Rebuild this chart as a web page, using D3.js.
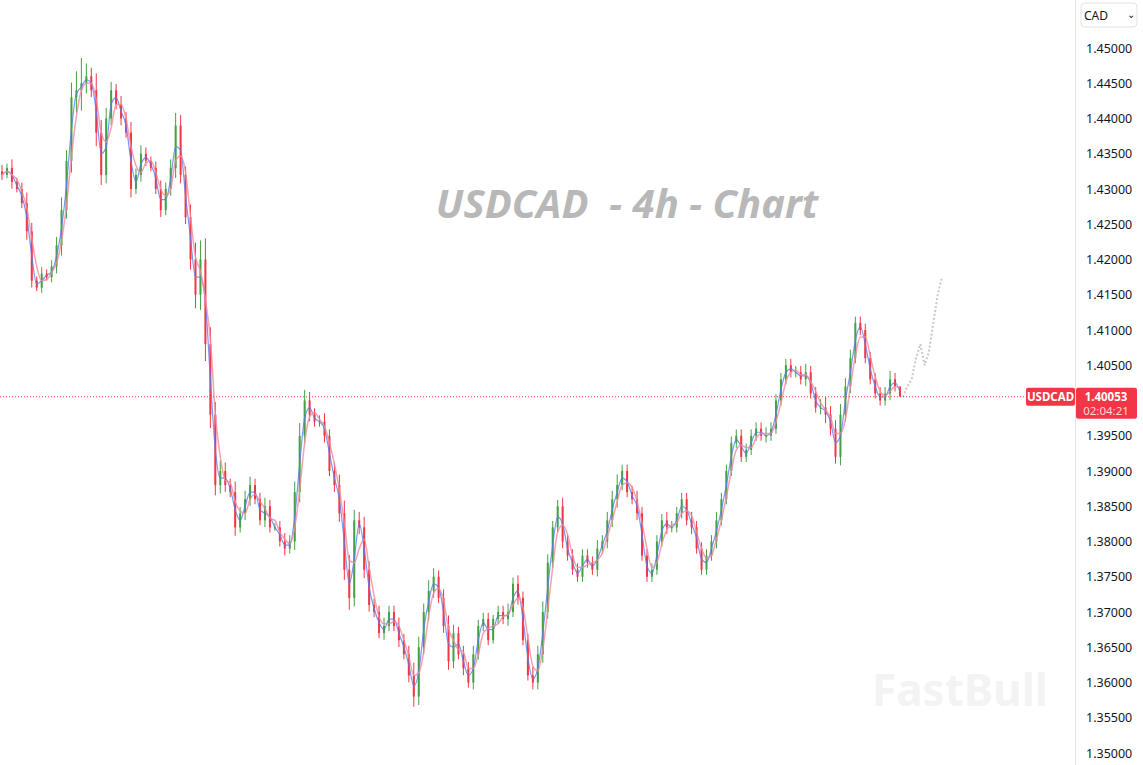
<!DOCTYPE html>
<html><head><meta charset="utf-8">
<script src="https://cdn.jsdelivr.net/npm/d3@7"></script>
<style>body{margin:0;background:#fff;font-family:"Noto Sans",Roboto,sans-serif}</style>
</head><body><svg id="c" width="1143" height="765"></svg>
<script>
const closes=[1.4320,1.4330,1.4310,1.4300,1.4280,1.4240,1.4170,1.4160,1.4180,1.4175,1.4190,1.4220,1.4270,1.4340,1.4430,1.4440,1.4450,1.4460,1.4440,1.4380,1.4320,1.4400,1.4440,1.4420,1.4400,1.4380,1.4300,1.4320,1.4350,1.4340,1.4330,1.4300,1.4270,1.4300,1.4330,1.4390,1.4320,1.4260,1.4200,1.4150,1.4200,1.4080,1.3980,1.3880,1.3900,1.3880,1.3870,1.3820,1.3840,1.3860,1.3880,1.3860,1.3830,1.3850,1.3820,1.3820,1.3800,1.3790,1.3800,1.3870,1.3950,1.4000,1.3980,1.3970,1.3970,1.3950,1.3900,1.3880,1.3840,1.3760,1.3720,1.3830,1.3820,1.3760,1.3710,1.3700,1.3670,1.3680,1.3700,1.3680,1.3660,1.3640,1.3610,1.3580,1.3650,1.3700,1.3730,1.3750,1.3720,1.3680,1.3630,1.3670,1.3640,1.3620,1.3600,1.3640,1.3680,1.3690,1.3660,1.3690,1.3700,1.3690,1.3700,1.3740,1.3720,1.3660,1.3610,1.3600,1.3640,1.3700,1.3770,1.3820,1.3850,1.3800,1.3780,1.3760,1.3750,1.3780,1.3770,1.3760,1.3790,1.3800,1.3830,1.3860,1.3880,1.3900,1.3870,1.3860,1.3840,1.3780,1.3750,1.3760,1.3800,1.3830,1.3820,1.3820,1.3840,1.3860,1.3830,1.3820,1.3790,1.3760,1.3780,1.3800,1.3830,1.3860,1.3900,1.3940,1.3950,1.3920,1.3930,1.3950,1.3960,1.3950,1.3950,1.3960,1.4000,1.4030,1.4050,1.4040,1.4040,1.4030,1.4040,1.4010,1.3990,1.3990,1.3980,1.3960,1.3920,1.3980,1.4020,1.4060,1.4110,1.4100,1.4060,1.4030,1.4010,1.4000,1.4010,1.4030,1.4020,1.40053];
const wicks=[3,2,4,2,3,5,4,2,3,2,3,4,6,5,7,9,12,6,4,8,6,5,4,3,4,3,5,3,4,3,2,3,4,3,4,6,5,4,6,8,9,10,8,6,5,4,3,5,3,4,4,3,3,4,3,2,3,4,3,5,6,5,4,3,3,4,3,4,5,6,7,5,4,5,4,3,3,4,3,3,4,3,4,6,5,4,5,4,3,4,5,4,3,4,3,4,3,3,3,2,3,3,4,3,4,3,3,4,4,5,4,3,3,4,3,3,3,3,3,3,4,3,4,4,5,3,3,3,4,3,3,3,3,3,4,3,3,3,3,4,3,3,3,3,4,3,3,3,3,3,3,3,3,3,4,3,3,3,3,3,3,3,4,3,3,4,5,4,4,5,4,4,3,3,3,3,3,3,3,4,3];
const forecast=[1.4005,1.4020,1.4030,1.4060,1.4080,1.4050,1.4070,1.4110,1.4150,1.4175];
const yTicks=[1.45,1.445,1.44,1.435,1.43,1.425,1.42,1.415,1.41,1.405,1.395,1.39,1.385,1.38,1.375,1.37,1.365,1.36,1.355,1.35];
const lastPrice=1.40053;

const svg=d3.select("#c");
const y=d3.scaleLinear().domain([1.35,1.45]).range([753,48]);
const x=d3.scaleLinear().domain([0,closes.length-1]).range([2,900]);
const xf=d3.scaleLinear().domain([0,forecast.length-1]).range([903,942]);

svg.append("text").attr("x",627).attr("y",218).attr("text-anchor","middle")
 .attr("font-size",40).attr("font-style","italic").attr("font-weight","bold")
 .attr("fill","#b8b8b8").attr("xml:space","preserve").text("USDCAD  - 4h - Chart");
svg.append("text").attr("x",960).attr("y",706).attr("text-anchor","middle")
 .attr("font-size",44).attr("font-weight","bold").attr("fill","#f3f3f3").text("FastBull");

const data=closes.map((c,i)=>{const o=i?closes[i-1]:c+0.0005;const w=wicks[i]*0.0003;
 return {i,o,c,h:Math.max(o,c)+w,l:Math.min(o,c)-w*0.8};});
const g=svg.append("g");
data.forEach(d=>{const col=d.c>=d.o?"#43a047":"#f23645";
 g.append("line").attr("x1",x(d.i)).attr("x2",x(d.i)).attr("y1",y(d.h)).attr("y2",y(d.l)).attr("stroke",col).attr("stroke-width",1);
 const t=y(Math.max(d.o,d.c)),b=y(Math.min(d.o,d.c));
 g.append("rect").attr("x",x(d.i)-1).attr("width",2).attr("y",t).attr("height",Math.max(1,b-t)).attr("fill",col);
});
function sma(n){return closes.map((c,i)=>{const s=closes.slice(Math.max(0,i-n+1),i+1);return d3.mean(s);});}
const line=d3.line().x((d,i)=>x(i)).y(d=>y(d)).curve(d3.curveMonotoneX);
svg.append("path").attr("d",line(sma(2))).attr("fill","none").attr("stroke","#5b7cf0").attr("stroke-width",1.2).attr("opacity",0.8);
svg.append("path").attr("d",line(sma(3))).attr("fill","none").attr("stroke","#f48a9a").attr("stroke-width",1.5).attr("opacity",0.8);
svg.append("path").attr("d",d3.line().x((d,i)=>xf(i)).y(d=>y(d))(forecast)).attr("fill","none")
 .attr("stroke","#c8c8c8").attr("stroke-width",2).attr("stroke-dasharray","2,2");

svg.append("line").attr("x1",0).attr("x2",1025).attr("y1",y(lastPrice)).attr("y2",y(lastPrice))
 .attr("stroke","#f23645").attr("stroke-dasharray","1,2").attr("stroke-width",1);

svg.append("line").attr("x1",1075.5).attr("x2",1075.5).attr("y1",0).attr("y2",765).attr("stroke","#e0e3eb");
yTicks.forEach(t=>svg.append("text").attr("x",1086).attr("y",y(t)+4.5).attr("font-size",12.5).attr("fill","#131722").text(t.toFixed(5)));

svg.append("rect").attr("x",1026).attr("y",y(lastPrice)-9).attr("width",49).attr("height",18).attr("rx",2).attr("fill","#f23645");
svg.append("text").attr("x",1050.5).attr("y",y(lastPrice)+4.5).attr("text-anchor","middle").attr("font-size",11.5).attr("font-weight","bold").attr("fill","#fff").text("USDCAD");
svg.append("rect").attr("x",1076).attr("y",y(lastPrice)-9).attr("width",61).attr("height",31).attr("rx",2).attr("fill","#f23645");
svg.append("text").attr("x",1106).attr("y",y(lastPrice)+4).attr("text-anchor","middle").attr("font-size",11.5).attr("font-weight","bold").attr("fill","#fff").text(lastPrice.toFixed(5));
svg.append("text").attr("x",1106).attr("y",y(lastPrice)+18.5).attr("text-anchor","middle").attr("font-size",11.5).attr("fill","#ffd6da").text("02:04:21");

svg.append("rect").attr("x",1081).attr("y",3).attr("width",56).attr("height",24).attr("rx",4).attr("fill","#fff").attr("stroke","#e0e3eb");
svg.append("text").attr("x",1084).attr("y",19.5).attr("font-size",12).attr("fill","#131722").text("CAD");
svg.append("text").attr("x",1127).attr("y",18).attr("font-size",10).attr("fill","#131722").text("⌄");
</script></body></html>
